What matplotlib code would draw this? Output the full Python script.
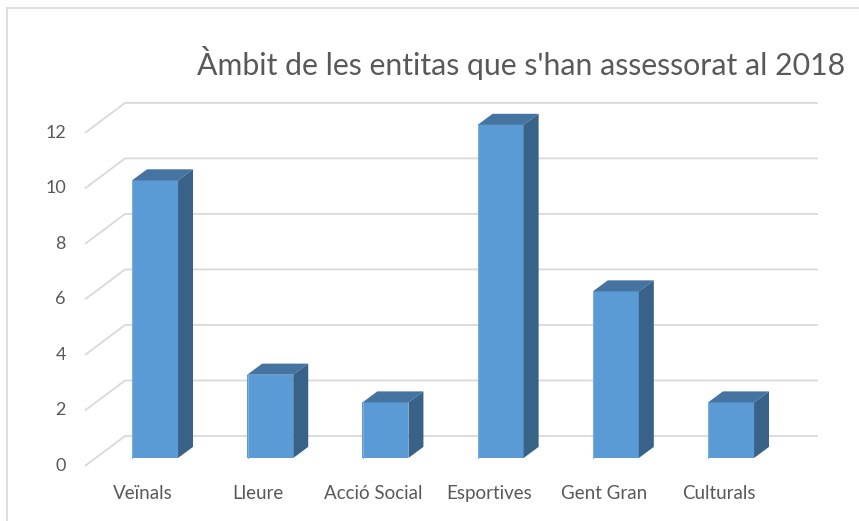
import matplotlib
matplotlib.use("Agg")
import matplotlib.pyplot as plt
from matplotlib.patches import Polygon
from matplotlib.lines import Line2D

# ---- data ----
categories = ["Veïnals", "Lleure", "Acció Social", "Esportives", "Gent Gran", "Culturals"]
values = [10, 3, 2, 12, 6, 2]
yticks = [0, 2, 4, 6, 8, 10, 12]
title = "Àmbit de les entitas que s'han assessorat al 2018"

# ---- style ----
FRONT = "#5B9BD5"
TOP = "#4674A1"
SIDE = "#386288"
GRID = "#D9D9D9"
TXT = "#595959"
FONT = ["Lato", "DejaVu Sans"]

W, H = 859, 521
fig = plt.figure(figsize=(W / 100, H / 100), dpi=100)
ax = fig.add_axes([0, 0, 1, 1])
ax.set_xlim(-1.3455, 6.111)
ax.set_ylim(-2.27, 16.50)
ax.axis("off")

# depth offsets (in data units) for pseudo-3D
bar_w = 0.40
bdx, bdy = 0.130, 0.40        # bar depth
wall_dy = 0.793               # back wall vertical offset
floor_dy = -0.288             # front edge of side wall
wall_x0, wall_xf, wall_x1 = -0.260, -0.608, 5.755

# back wall gridlines + side wall lines
for v in yticks:
    ax.plot([wall_xf, wall_x0, wall_x1], [v + floor_dy, v + wall_dy, v + wall_dy],
            color=GRID, lw=1.3, zorder=1, solid_capstyle="butt")
    ax.text(-0.773, v + floor_dy, str(v), ha="right", va="center",
            fontsize=13, color=TXT, family=FONT)

# bars
xs = list(range(len(categories)))
ax.bar(xs, values, width=bar_w, color=FRONT, zorder=3, linewidth=0)
for x, v in zip(xs, values):
    l, r = x - bar_w / 2, x + bar_w / 2
    ax.add_patch(Polygon([(l, v), (r, v), (r + bdx, v + bdy), (l + bdx, v + bdy)],
                         closed=True, facecolor=TOP, edgecolor="none", zorder=3))
    ax.add_patch(Polygon([(r, 0), (r + bdx, bdy), (r + bdx, v + bdy), (r, v)],
                         closed=True, facecolor=SIDE, edgecolor="none", zorder=3))
    ax.plot([l + 0.004, l + 0.004], [0, v], color="#80ACDD", lw=0.8, zorder=4)
    ax.text(x - 0.104, -1.297, categories[x], ha="center", va="center",
            fontsize=13.5, color=TXT, family=FONT)

# title
ax.text(0.365, 13.80, title, ha="left", va="baseline", fontsize=21.8,
        color=TXT, family=FONT)

# chart border (left and top)
fig.add_artist(Line2D([7 / W, 7 / W], [0, 1 - 8 / H], color=GRID, lw=1.2))
fig.add_artist(Line2D([7 / W, 1], [1 - 8 / H, 1 - 8 / H], color=GRID, lw=1.2))

fig.savefig("out.png", dpi=100, facecolor="white")
